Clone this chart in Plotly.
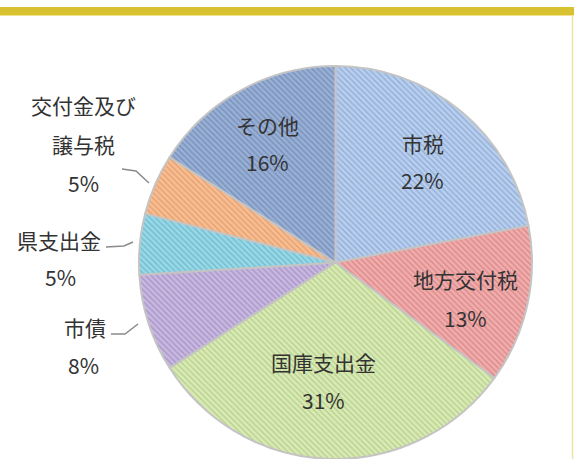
import plotly.graph_objects as go

# ---- data ----
categories = ["市税", "地方交付税", "国庫支出金", "市債", "県支出金", "交付金及び譲与税", "その他"]
values = [22, 13, 31, 8, 5, 5, 16]
label_lines = [["市税"], ["地方交付税"], ["国庫支出金"], ["市債"], ["県支出金"], ["交付金及び", "譲与税"], ["その他"]]

colors = ["#b8cfef", "#f2acac", "#d9ebb4", "#c8b8e1", "#97d9e8", "#f9bd90", "#99b0d6"]
stripe = ["#6d8cbb", "#c06a6a", "#98b26a", "#8773aa", "#4d9db1", "#c98558", "#56709a"]

W, H = 574, 459
FONT = "Noto Sans CJK JP"
TXT = "#333333"


def px(x, y):
    return x / W, 1 - y / H


fig = go.Figure(
    go.Pie(
        labels=categories,
        values=values,
        sort=False,
        direction="clockwise",
        rotation=0,
        textinfo="none",
        hoverinfo="label+percent",
        marker=dict(
            colors=colors,
            line=dict(color="#c4c4c4", width=2),
            pattern=dict(shape="\\", bgcolor=colors, fgcolor=stripe, fgopacity=0.55,
                         size=4, solidity=0.3),
        ),
        domain=dict(x=[0.2395, 0.9294], y=[0.0, 0.8562]),
        showlegend=False,
    )
)

# label placement (pixel centres for each text line)
label_pos = {
    0: [(423, 143), (422, 180)],
    1: [(465, 279), (465, 318)],
    2: [(323, 362), (323, 400)],
    3: [(85, 327), (83, 365)],
    4: [(59, 240), (60, 277)],
    5: [(83, 105), (83, 144), (83, 183)],
    6: [(267, 125), (267, 162)],
}

annotations = []
for i, name in enumerate(categories):
    lines = label_lines[i] + [f"{values[i]}%"]
    for (x, y), t in zip(label_pos[i], lines):
        xp, yp = px(x, y)
        annotations.append(dict(
            x=xp, y=yp, xref="paper", yref="paper", text=t, showarrow=False,
            xanchor="center", yanchor="middle",
            font=dict(family=FONT, size=21, color=TXT),
        ))

shapes = []
# top gold bar
x0, y0 = px(0, 7)
x1, y1 = px(W, 15)
shapes.append(dict(type="rect", xref="paper", yref="paper", x0=x0, x1=x1, y0=y1, y1=y0,
                   fillcolor="#d8c232", line=dict(width=0), layer="below"))
x0, y0 = px(0, 15)
x1, y1 = px(W, 16)
shapes.append(dict(type="rect", xref="paper", yref="paper", x0=x0, x1=x1, y0=y1, y1=y0,
                   fillcolor="#f1e48c", line=dict(width=0), layer="below"))
# right border
xa, ya = px(572.5, 15)
xb, yb = px(572.5, H)
shapes.append(dict(type="line", xref="paper", yref="paper", x0=xa, x1=xb, y0=ya, y1=yb,
                   line=dict(color="#efe4a6", width=1.5)))

# leader lines
leaders = [
    [(122, 169), (136, 171), (149, 183)],
    [(106, 247), (124, 246), (133, 242)],
    [(111, 334), (125, 334), (138, 324)],
]
for pts in leaders:
    p = [px(x, y) for x, y in pts]
    path = "M " + " L ".join(f"{a:.4f},{b:.4f}" for a, b in p)
    shapes.append(dict(type="path", xref="paper", yref="paper", path=path,
                       line=dict(color="#8a8a8a", width=1.5)))

fig.update_layout(
    width=W, height=H,
    margin=dict(l=0, r=0, t=0, b=0),
    paper_bgcolor="#ffffff",
    plot_bgcolor="#ffffff",
    annotations=annotations,
    shapes=shapes,
)

fig.write_html("out.html", config={"displayModeBar": False},
               post_script="document.body.style.margin='0px';document.body.style.overflow='hidden';")
